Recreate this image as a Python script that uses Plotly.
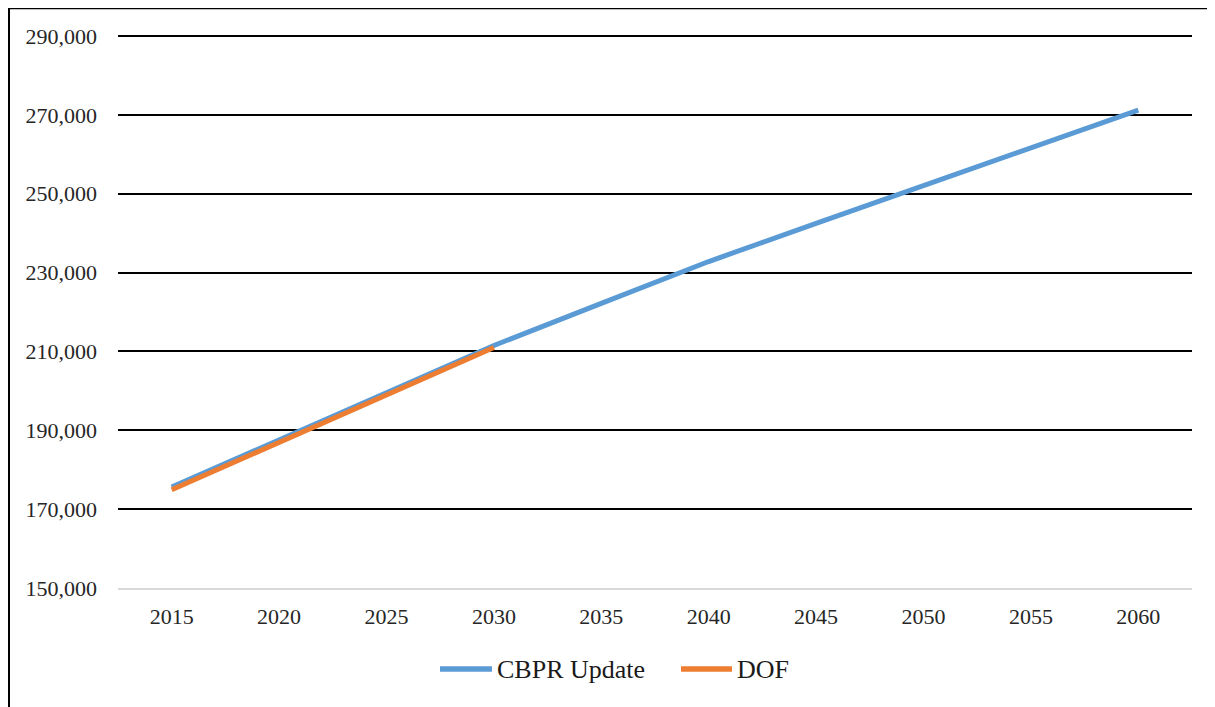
import plotly.graph_objects as go

years = ["2015", "2020", "2025", "2030", "2035", "2040", "2045", "2050", "2055", "2060"]
cbpr_update = [175600, 187600, 199500, 211500, 222200, 232800, 242500, 252100, 261700, 271200]
dof_years = ["2015", "2020", "2025", "2030"]
dof = [174900, 187000, 199000, 211000]
y_ticks = [150000, 170000, 190000, 210000, 230000, 250000, 270000, 290000]

# page body adds an 8px margin, so the figure is laid out in its own coordinates
W, H = 1207, 699
Y_MIN, Y_MAX = 150000, 290000
L, R, B = 110, 1184, 580
TOP_GRID = 28
EXTRA_PX = 3  # keep the top gridline away from the plot edge so it is drawn
per_px = (Y_MAX - Y_MIN) / (B - TOP_GRID)
T = TOP_GRID - EXTRA_PX
FONT = "Liberation Serif"
BLUE = "#5B9BD5"
ORANGE = "#ED7D31"

fig = go.Figure()
fig.add_trace(go.Scatter(x=years, y=cbpr_update, mode="lines", name="CBPR Update",
                         line=dict(color=BLUE, width=5), showlegend=False))
fig.add_trace(go.Scatter(x=dof_years, y=dof, mode="lines", name="DOF",
                         line=dict(color=ORANGE, width=5), showlegend=False))

def px_to_paper_x(px):
    return (px - L) / (R - L)

def px_to_paper_y(py):
    return (B - py) / (B - T)

shapes = []
# outer border (left and top)
shapes.append(dict(type="line", xref="paper", yref="paper",
                   x0=px_to_paper_x(0.5), x1=px_to_paper_x(0.5),
                   y0=px_to_paper_y(-1), y1=px_to_paper_y(H + 5),
                   line=dict(color="black", width=3)))
shapes.append(dict(type="line", xref="paper", yref="paper",
                   x0=px_to_paper_x(-1), x1=px_to_paper_x(W + 5),
                   y0=px_to_paper_y(0), y1=px_to_paper_y(0),
                   line=dict(color="black", width=2.5)))

# manual legend
annotations = []
legend_items = [("CBPR Update", BLUE, 432, 484), ("DOF", ORANGE, 673, 724)]
ly = 661
for name, col, x0, x1 in legend_items:
    shapes.append(dict(type="line", xref="paper", yref="paper",
                       x0=px_to_paper_x(x0), x1=px_to_paper_x(x1),
                       y0=px_to_paper_y(ly), y1=px_to_paper_y(ly),
                       line=dict(color=col, width=5.5)))
    annotations.append(dict(xref="paper", yref="paper", x=px_to_paper_x(x1 + 3),
                            y=px_to_paper_y(ly), xanchor="left", yanchor="middle",
                            text=name, showarrow=False,
                            font=dict(family=FONT, size=26, color="#1a1a1a")))

fig.update_layout(
    width=W, height=H,
    margin=dict(l=L, r=W - R, t=T, b=H - B, pad=0),
    paper_bgcolor="white", plot_bgcolor="white",
    font=dict(family=FONT, size=22, color="#262626"),
    shapes=shapes, annotations=annotations,
    showlegend=False,
)
fig.update_xaxes(type="category", range=[-0.5, len(years) - 0.5],
                 showgrid=False, showline=True, linecolor="#D9D9D9", linewidth=2,
                 ticks="", ticklabelstandoff=8, tickfont=dict(size=22))
fig.update_yaxes(range=[Y_MIN, Y_MAX + EXTRA_PX * per_px], tickvals=y_ticks,
                 ticktext=[f"{v:,}" for v in y_ticks],
                 showgrid=True, gridcolor="black", gridwidth=2,
                 zeroline=False, showline=False, ticks="",
                 ticklabelstandoff=20, tickfont=dict(size=22))

fig.write_html("out.html")
